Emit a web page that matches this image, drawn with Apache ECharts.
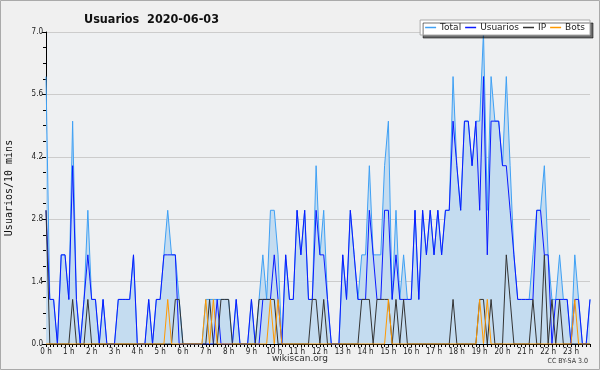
<!DOCTYPE html>
<html><head><meta charset="utf-8">
<script src="https://cdn.jsdelivr.net/npm/echarts@6/dist/echarts.min.js"></script>
<style>html,body{margin:0;padding:0;background:#f0f0f0}#c{width:600px;height:370px}</style>
</head><body><div id="c"></div>
<script>
const hourLabels = ["0 h","1 h","2 h","3 h","4 h","5 h","6 h","7 h","8 h","9 h","10 h","11 h","12 h","13 h","14 h","15 h","16 h","17 h","18 h","19 h","20 h","21 h","22 h","23 h"];
const yTicks = [0, 1.4, 2.8, 4.2, 5.6, 7.0];
const seriesNames = ["Total", "Usuarios", "IP", "Bots"];

const total = [
6,1,1,0,2,2, 1,5,1,0,1,3, 1,1,0,1,0,0, 0,1,1,1,1,2,
0,0,0,1,0,1, 1,2,3,2,2,1, 0,0,0,0,0,0, 1,1,1,1,1,1,
1,0,1,0,0,0, 1,0,1,2,1,3, 3,2,0,2,1,1, 3,2,3,1,1,4,
2,3,1,0,0,0, 2,1,3,2,1,2, 2,4,2,2,2,4, 5,1,3,1,2,1,
1,3,1,3,2,3, 2,3,2,3,3,6, 4,3,5,5,4,5, 5,7,3,6,5,5,
4,6,4,2,1,1, 1,1,2,3,3,4, 2,1,1,2,1,1, 0,2,1,0,0,1];
const usuarios = [
3,1,1,0,2,2, 1,4,1,0,1,2, 1,1,0,1,0,0, 0,1,1,1,1,2,
0,0,0,1,0,1, 1,2,2,2,2,0, 0,0,0,0,0,0, 0,0,0,1,0,0,
0,0,1,0,0,0, 1,0,0,1,1,1, 2,1,0,2,1,1, 3,2,3,1,1,3,
2,2,1,0,0,0, 2,1,3,2,1,1, 1,3,2,1,1,3, 3,1,2,1,1,1,
1,3,1,3,2,3, 2,3,2,3,3,5, 4,3,5,5,4,5, 3,6,2,5,5,5,
4,4,3,2,1,1, 1,1,1,3,3,2, 2,0,1,1,1,1, 0,1,1,0,0,1];
const ip = [
3,0,0,0,0,0, 0,1,0,0,0,1, 0,0,0,0,0,0, 0,0,0,0,0,0,
0,0,0,0,0,0, 0,0,0,0,1,1, 0,0,0,0,0,0, 0,1,0,0,1,1,
1,0,0,0,0,0, 0,0,1,1,1,1, 1,0,0,0,0,0, 0,0,0,0,1,1,
0,1,0,0,0,0, 0,0,0,0,0,1, 1,1,0,1,1,1, 1,0,1,0,1,0,
0,0,0,0,0,0, 0,0,0,0,0,1, 0,0,0,0,0,0, 1,1,0,1,0,0,
0,2,1,0,0,0, 0,0,1,0,0,2, 0,1,0,1,0,0, 0,0,0,0,0,0];
const bots = [
0,0,0,0,0,0, 0,0,0,0,0,0, 0,0,0,0,0,0, 0,0,0,0,0,0,
0,0,0,0,0,0, 0,0,1,0,0,0, 0,0,0,0,0,0, 1,0,1,0,0,0,
0,0,0,0,0,0, 0,0,0,0,0,1, 0,1,0,0,0,0, 0,0,0,0,0,0,
0,0,0,0,0,0, 0,0,0,0,0,0, 0,0,0,0,0,0, 1,0,0,0,0,0,
0,0,0,0,0,0, 0,0,0,0,0,0, 0,0,0,0,0,0, 1,0,1,0,0,0,
0,0,0,0,0,0, 0,0,0,0,0,0, 0,0,0,0,0,0, 0,1,0,0,0,0];

const categories = [];
for (let h = 0; h < 24; h++) for (let m = 0; m < 60; m += 10)
  categories.push(String(h).padStart(2,'0') + ':' + String(m).padStart(2,'0'));

const chart = echarts.init(document.getElementById('c'), null, {renderer:'canvas'});
const lineBase = {type:'line', symbol:'none', smooth:false, animation:false};
chart.setOption({
  backgroundColor:'#f0f0f0',
  animation:false,
  title:{text:'Usuarios  2020-06-03', left:79, top:8,
    textStyle:{fontFamily:'DejaVu Sans Condensed, DejaVu Sans', fontWeight:'bold', fontSize:12.5, color:'#111'}},
  legend:{right:10, top:20, data:seriesNames, icon:'rect', itemWidth:11, itemHeight:1.5, itemGap:4,
    padding:[3,5,3,5], backgroundColor:'#ffffff', borderColor:'#aaaaaa', borderWidth:1,
    shadowColor:'rgba(0,0,0,0.55)', shadowOffsetX:3, shadowOffsetY:3, shadowBlur:0,
    textStyle:{fontFamily:'DejaVu Sans', fontSize:9, color:'#222', padding:[0,0,0,-1]}},
  grid:{left:46, right:10, top:32, bottom:26, show:true, backgroundColor:'#eef0f2', borderWidth:0,
    containLabel:false, outerBoundsMode:'none'},
  xAxis:{type:'category', data:categories, boundaryGap:false,
    axisLine:{lineStyle:{color:'#000', width:1}},
    axisTick:{show:true, interval:0, length:3, lineStyle:{color:'#000'}},
    axisLabel:{interval:5, margin:4, fontFamily:'DejaVu Sans Condensed, DejaVu Sans', fontSize:8, color:'#222',
      formatter:(v, i) => hourLabels[Math.floor(i/6)]},
    splitLine:{show:false}},
  yAxis:{type:'value', min:yTicks[0], max:yTicks[yTicks.length-1], interval:1.4,
    name:'Usuarios/10 mins', nameLocation:'middle', nameGap:32, nameRotate:90,
    nameTextStyle:{fontFamily:'DejaVu Sans Mono', fontSize:10, color:'#111'},
    axisLine:{show:true, lineStyle:{color:'#000', width:1}},
    axisTick:{show:true, length:4, lineStyle:{color:'#000'}},
    minorTick:{show:true, splitNumber:4, length:3, lineStyle:{color:'#000'}},
    axisLabel:{margin:3, fontFamily:'DejaVu Sans Condensed, DejaVu Sans', fontSize:8, color:'#222',
      formatter:v => v.toFixed(1)},
    splitLine:{show:true, lineStyle:{color:'#cccccc', width:1}}},
  series:[
    Object.assign({}, lineBase, {name:'Total', data:total, z:2,
      lineStyle:{color:'#3fa0f4', width:1}, itemStyle:{color:'#3fa0f4'},
      areaStyle:{color:'#c4dcf0', opacity:1}}),
    Object.assign({}, lineBase, {name:'Usuarios', data:usuarios, z:3,
      lineStyle:{color:'#0a1aff', width:1}, itemStyle:{color:'#0a1aff'}}),
    Object.assign({}, lineBase, {name:'IP', data:ip, z:4,
      lineStyle:{color:'#333333', width:1}, itemStyle:{color:'#333333'}}),
    Object.assign({}, lineBase, {name:'Bots', data:bots, z:5,
      lineStyle:{color:'#ff9900', width:1}, itemStyle:{color:'#ff9900'}})
  ],
  graphic:[
    {type:'rect', shape:{x:0.5, y:0.5, width:599, height:369}, style:{fill:'none', stroke:'#aaaaaa', lineWidth:1}, silent:true},
    {type:'text', left:'center', top:354, style:{text:'wikiscan.org', fontFamily:'DejaVu Sans', fontSize:9, fill:'#333'}},
    {type:'text', right:12, top:358, style:{text:'CC BY-SA 3.0', fontFamily:'DejaVu Sans Condensed, DejaVu Sans', fontSize:7, fill:'#333'}}
  ]
});
</script></body></html>
